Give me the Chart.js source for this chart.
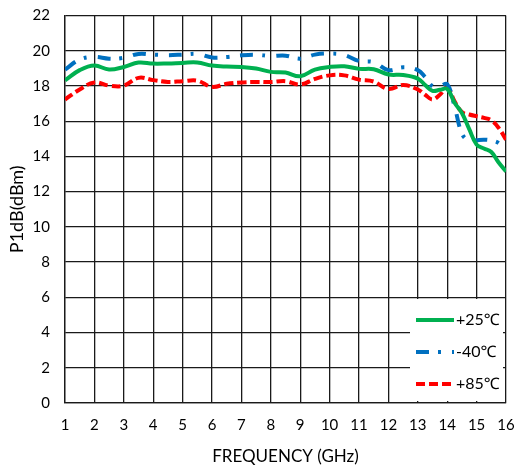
<!DOCTYPE html>
<html>
<head>
<meta charset="utf-8">
<script src="https://cdn.jsdelivr.net/npm/chart.js@4/dist/chart.umd.min.js"></script>
<style>
  html, body { margin: 0; padding: 0; background: #fff; }
  #wrap { width: 516px; height: 471px; }
</style>
</head>
<body>
<div id="wrap"><canvas id="c" width="516" height="471"></canvas></div>
<script>
// Frequency points (GHz)
const freqGHz = [1, 1.5, 2, 2.5, 3, 3.5, 4, 4.5, 5, 5.5, 6, 6.5, 7, 7.5, 8, 8.5, 9, 9.5, 10, 10.5,
  11, 11.5, 12, 12.5, 13, 13.25, 13.5, 13.75, 14, 14.25, 14.5, 14.75, 15, 15.25, 15.5, 15.75, 16];

// P1dB (dBm) per temperature
const p1dbPlus25 = [18.32, 18.9, 19.16, 18.93, 19.08, 19.33, 19.27, 19.28, 19.31, 19.33, 19.16, 19.1,
  19.08, 18.99, 18.8, 18.76, 18.55, 18.93, 19.08, 19.12, 18.97, 18.95, 18.65, 18.62, 18.42, 18.05,
  17.72, 17.78, 17.83, 17.05, 16.47, 15.55, 14.67, 14.45, 14.25, 13.65, 13.15];
const p1dbMinus40 = [18.93, 19.5, 19.65, 19.55, 19.6, 19.82, 19.78, 19.75, 19.78, 19.82, 19.62, 19.65,
  19.74, 19.77, 19.7, 19.72, 19.55, 19.78, 19.84, 19.76, 19.42, 19.35, 18.9, 19.06, 18.9, 18.5,
  17.98, 17.98, 18.1, 16.85, 15.3, 14.88, 14.92, 14.95, 14.9, 14.75, 14.3];
const p1dbPlus85 = [17.23, 17.8, 18.2, 18.02, 18.02, 18.46, 18.33, 18.23, 18.27, 18.3, 17.95, 18.12,
  18.2, 18.23, 18.22, 18.27, 18.08, 18.4, 18.6, 18.6, 18.36, 18.25, 17.83, 18.05, 17.8, 17.5,
  17.23, 17.5, 17.9, 17.13, 16.52, 16.38, 16.28, 16.19, 16.05, 15.62, 14.95];

const seriesLabels = ['+25℃', '-40℃', '+85℃'];
const xTitle = 'FREQUENCY (GHz)';
const yTitle = 'P1dB(dBm)';

const FONT = "Lato, 'Noto Sans', 'Noto Sans CJK SC', sans-serif";

function toPoints(ys) {
  return freqGHz.map((f, i) => ({ x: f, y: ys[i] }));
}

// Legend drawn as a white box inside the lower-right corner of the plot
const boxLegend = {
  id: 'boxLegend',
  afterDatasetsDraw(chart) {
    const { ctx, chartArea } = chart;
    const left = chartArea.right - 96;
    const top = chartArea.bottom - 104;
    ctx.save();
    ctx.fillStyle = '#fff';
    ctx.fillRect(left, top, 93, 102);
    chart.data.datasets.forEach((ds, i) => {
      const y = top + 21 + i * 32;
      const x0 = left + 6;
      const x1 = x0 + 38;
      ctx.beginPath();
      ctx.strokeStyle = ds.borderColor;
      ctx.lineWidth = ds.borderWidth;
      ctx.setLineDash(ds.borderDash || []);
      ctx.moveTo(x0, y);
      ctx.lineTo(x1, y);
      ctx.stroke();
      ctx.setLineDash([]);
      ctx.fillStyle = '#000';
      ctx.font = '16px ' + FONT;
      ctx.textBaseline = 'middle';
      ctx.textAlign = 'left';
      ctx.fillText(ds.label, x1 + 2, y);
    });
    ctx.restore();
  }
};

new Chart(document.getElementById('c'), {
  type: 'line',
  data: {
    datasets: [
      {
        label: seriesLabels[0],
        data: toPoints(p1dbPlus25),
        borderColor: '#00B050',
        borderWidth: 4,
        tension: 0.4,
        pointRadius: 0,
        fill: false
      },
      {
        label: seriesLabels[1],
        data: toPoints(p1dbMinus40),
        borderColor: '#0070C0',
        borderWidth: 4,
        borderDash: [13, 9, 3, 11],
        tension: 0.4,
        pointRadius: 0,
        fill: false
      },
      {
        label: seriesLabels[2],
        data: toPoints(p1dbPlus85),
        borderColor: '#FF0000',
        borderWidth: 4,
        borderDash: [9, 4],
        tension: 0.4,
        pointRadius: 0,
        fill: false
      }
    ]
  },
  options: {
    responsive: false,
    devicePixelRatio: 1,
    animation: false,
    layout: { padding: { top: 15.5, right: 10, left: 0, bottom: 0 } },
    plugins: {
      legend: { display: false },
      tooltip: { enabled: false }
    },
    scales: {
      x: {
        type: 'linear',
        min: 1,
        max: 16,
        afterFit(axis) {
          axis.height = 68;
          axis.paddingLeft = 0;
          axis.paddingRight = 0;
        },
        ticks: {
          stepSize: 1,
          color: '#000',
          padding: 13,
          maxRotation: 0,
          font: { family: FONT, size: 15 }
        },
        grid: { color: '#1a1a1a', lineWidth: 1.3, drawTicks: false },
        border: { color: '#1a1a1a', width: 1.3 },
        title: {
          display: true,
          text: xTitle,
          color: '#000',
          font: { family: FONT, size: 17 },
          padding: { top: 0, bottom: 4 }
        }
      },
      y: {
        min: 0,
        max: 22,
        afterFit(axis) {
          axis.width = 65;
          axis.paddingTop = 0;
          axis.paddingBottom = 0;
        },
        ticks: {
          stepSize: 2,
          color: '#000',
          padding: 15,
          font: { family: FONT, size: 15 }
        },
        grid: { color: '#1a1a1a', lineWidth: 1.3, drawTicks: false },
        border: { color: '#1a1a1a', width: 1.3 },
        title: {
          display: true,
          text: yTitle,
          color: '#000',
          font: { family: FONT, size: 18 },
          padding: { top: 6, bottom: 0 }
        }
      }
    }
  },
  plugins: [boxLegend]
});
</script>
</body>
</html>
